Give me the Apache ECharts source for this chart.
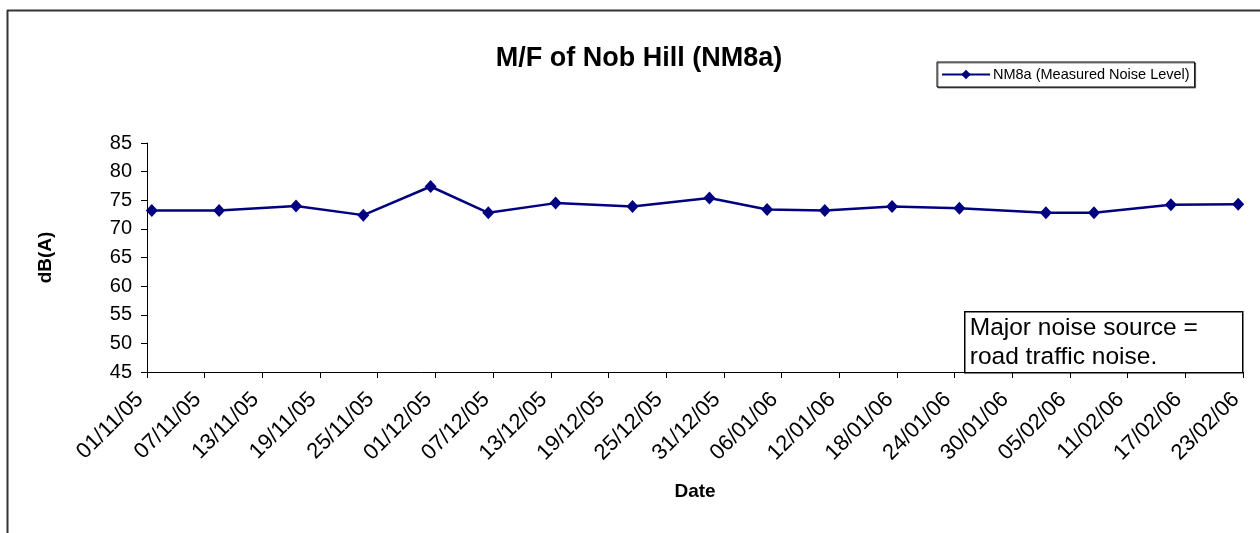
<!DOCTYPE html>
<html>
<head>
<meta charset="utf-8">
<title>M/F of Nob Hill (NM8a)</title>
<script src="https://cdn.jsdelivr.net/npm/echarts@6/dist/echarts.min.js"></script>
<style>
  html, body { margin: 0; padding: 0; background: #fff; }
  #chart { width: 1260px; height: 533px; }
</style>
</head>
<body>
<div id="chart"></div>
<script>
// measurement dates (dd/mm/yy) and levels in dB(A)
const dates = ['01/11/05', '08/11/05', '16/11/05', '23/11/05', '30/11/05', '06/12/05',
  '13/12/05', '21/12/05', '29/12/05', '04/01/06', '10/01/06', '17/01/06', '24/01/06',
  '02/02/06', '07/02/06', '15/02/06', '22/02/06']
const levels = [73.2, 73.2, 74.0, 72.4, 77.4, 72.8, 74.5, 73.9, 75.4, 73.4, 73.2, 73.9,
  73.6, 72.8, 72.8, 74.2, 74.3]
const startDate = '01/11/05'
const endDate = '23/02/06'
const tickDays = 6
const yTicks = [45, 85, 5] // min, max, step
const seriesName = 'NM8a (Measured Noise Level)'
const note = 'Major noise source =\nroad traffic noise.'

const DAY = 86400000
const FONT = '"Liberation Sans", Arial, sans-serif'

function parseDate(s) {
  const [d, m, y] = s.split('/').map(Number)
  return Date.UTC(2000 + y, m - 1, d)
}
const t0 = parseDate(startDate)
function pad(n) { return n < 10 ? '0' + n : '' + n }
function dayLabel(v) {
  const d = new Date(t0 + Math.round(v) * DAY)
  return pad(d.getUTCDate()) + '/' + pad(d.getUTCMonth() + 1) + '/' + pad(d.getUTCFullYear() % 100)
}

// Excel date axis: each reading sits in the middle of its day
const points = dates.map((d, i) => [(parseDate(d) - t0) / DAY + 0.5, levels[i]])

const chart = echarts.init(document.getElementById('chart'))
const option = {
  animation: false,
  backgroundColor: '#fff',
  textStyle: { fontFamily: FONT, color: '#000' },
  title: {
    text: 'M/F of Nob Hill (NM8a)',
    left: 634,
    top: 40,
    textAlign: 'center',
    textStyle: { fontFamily: FONT, fontSize: 27, fontWeight: 'bold', color: '#000' }
  },
  legend: {
    data: [seriesName],
    left: 937,
    top: 62,
    padding: [5, 5, 5, 4],
    itemWidth: 48,
    itemHeight: 12,
    itemGap: 4,
    borderColor: '#000',
    borderWidth: 1,
    shadowColor: 'rgba(0,0,0,0.5)',
    shadowOffsetX: 1,
    shadowOffsetY: 1,
    backgroundColor: '#fff',
    textStyle: { fontFamily: FONT, fontSize: 14.5, color: '#000', padding: [0, 0, 0, -2] }
  },
  grid: {
    left: 147,
    right: 17,
    top: 143,
    bottom: 161,
    containLabel: false
  },
  xAxis: {
    type: 'value',
    name: 'Date',
    nameLocation: 'middle',
    nameGap: 110,
    nameTextStyle: { fontFamily: FONT, fontSize: 19, fontWeight: 'bold', color: '#000' },
    min: 0,
    max: (parseDate(endDate) - t0) / DAY,
    interval: tickDays,
    axisLine: { lineStyle: { color: '#000', width: 1 } },
    axisTick: { show: true, inside: false, length: 6, lineStyle: { color: '#000' } },
    axisLabel: {
      rotate: 45,
      margin: 17,
      padding: [0, 10, 0, 0],
      fontFamily: FONT,
      fontSize: 22,
      color: '#000',
      formatter: dayLabel
    },
    splitLine: { show: false }
  },
  yAxis: {
    type: 'value',
    name: 'dB(A)',
    nameLocation: 'middle',
    nameGap: 92,
    nameRotate: 90,
    nameTextStyle: { fontFamily: FONT, fontSize: 19, fontWeight: 'bold', color: '#000' },
    min: yTicks[0],
    max: yTicks[1],
    interval: yTicks[2],
    axisLine: { show: true, lineStyle: { color: '#000', width: 1 } },
    axisTick: { show: true, inside: false, length: 6, lineStyle: { color: '#000' } },
    axisLabel: { margin: 15, fontFamily: FONT, fontSize: 20, color: '#000' },
    splitLine: { show: false }
  },
  series: [
    {
      name: seriesName,
      type: 'line',
      data: points,
      symbol: 'diamond',
      symbolSize: [12, 13],
      color: '#000080',
      lineStyle: { color: '#000080', width: 2.5 },
      itemStyle: { color: '#000080' }
    }
  ],
  graphic: [
    // chart frame (top and left edges only visible)
    { type: 'line', shape: { x1: 7, y1: 10.5, x2: 1260, y2: 10.5 }, style: { stroke: '#333', lineWidth: 2 } },
    { type: 'line', shape: { x1: 7.5, y1: 10, x2: 7.5, y2: 533 }, style: { stroke: '#333', lineWidth: 2 } },
    {
      type: 'group',
      left: 964,
      top: 311,
      children: [
        { type: 'rect', shape: { x: 0, y: 0, width: 278, height: 61 }, style: { fill: '#fff', stroke: '#000', lineWidth: 1.5 } },
        {
          type: 'text',
          x: 5,
          y: 2,
          style: { text: note, font: '24.5px ' + FONT, fill: '#000', lineHeight: 29 }
        }
      ]
    }
  ]
}
chart.setOption(option)
</script>
</body>
</html>
